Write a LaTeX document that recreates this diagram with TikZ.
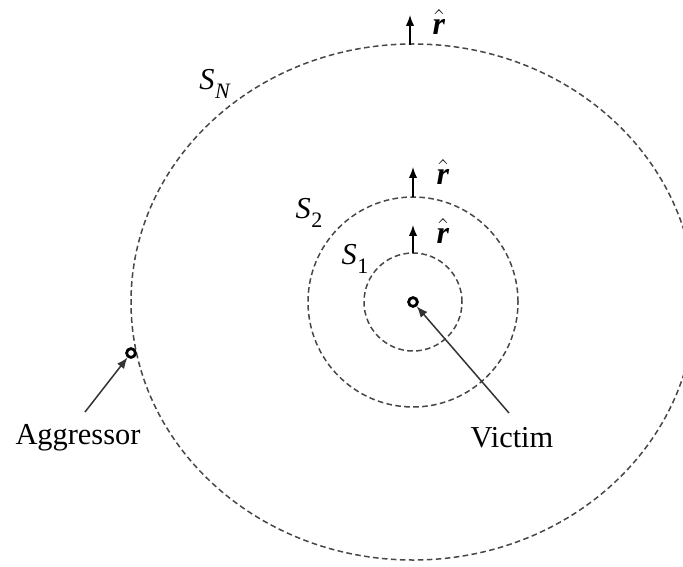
\documentclass[tikz,border=0pt]{standalone}
\usepackage{fontspec}
\setmainfont{Liberation Serif}
\usetikzlibrary{arrows.meta,calc}
\newcommand{\surfname}[1]{\textit{S}\kern0.3pt\raisebox{-0.6ex}{\fontsize{11}{12}\selectfont #1}}
\newcommand{\unitr}{{\fontsize{16}{18}\selectfont$\hat{\textbf{\textit{r}}}$}}

\begin{document}
\begin{tikzpicture}[
  x=0.5pt,y=-0.5pt,
  font=\fontsize{15.2}{18}\selectfont,
  every node/.style={inner sep=0pt},
  surf/.style={draw=black!72,line width=0.75pt,dash pattern=on 2.8pt off 1.7pt},
  probe/.style={circle,draw,line width=1.4pt,fill=white,inner sep=0pt,minimum size=4.4pt},
  normal/.style={-{Latex[length=5.5pt,width=4.2pt]},line width=0.7pt},
  link/.style={-{Latex[length=5.5pt,width=4.4pt]},line width=0.75pt,draw=black!80}
]
\useasboundingbox (0,0) rectangle (683,566);
\coordinate (c) at (413,302);

% closed surfaces round the victim
\draw[surf] (c) ellipse [x radius=141pt,y radius=129pt];
\draw[surf] (c) circle [radius=52.5pt];
\draw[surf] (c) circle [radius=24.5pt];

\coordinate (topN) at (410,45);
\coordinate (top2) at (413,197);
\coordinate (top1) at (413,253);
\coordinate (tipN) at ($(topN)+(0,-30)$);
\coordinate (tip2) at ($(top2)+(0,-30)$);
\coordinate (tip1) at ($(top1)+(0,-28)$);
\draw[normal] (topN) -- (tipN);
\draw[normal] (top2) -- (tip2);
\draw[normal] (top1) -- (tip1);

\node (rN) at (439,22) {\unitr};
\node (r2) at (443,172) {\unitr};
\node (r1) at (443,231) {\unitr};

\node (sN) at (215,84) {\surfname{\textit{N}}};
\node (s2) at (309,213) {\surfname{2}};
\node (s1) at (355,259) {\surfname{1}};

\node[probe] (victim) at (c) {};
\node[probe] (aggr) at (131,353) {};

\node (victimlbl) at (512,438) {Victim};
\node (aggrlbl) at (78,438) {Aggressor};
\coordinate (vtail) at (509,413);
\coordinate (atail) at (85,412);
\draw[link] (vtail) -- (victim);
\draw[link] (atail) -- (aggr);
\end{tikzpicture}
\end{document}
